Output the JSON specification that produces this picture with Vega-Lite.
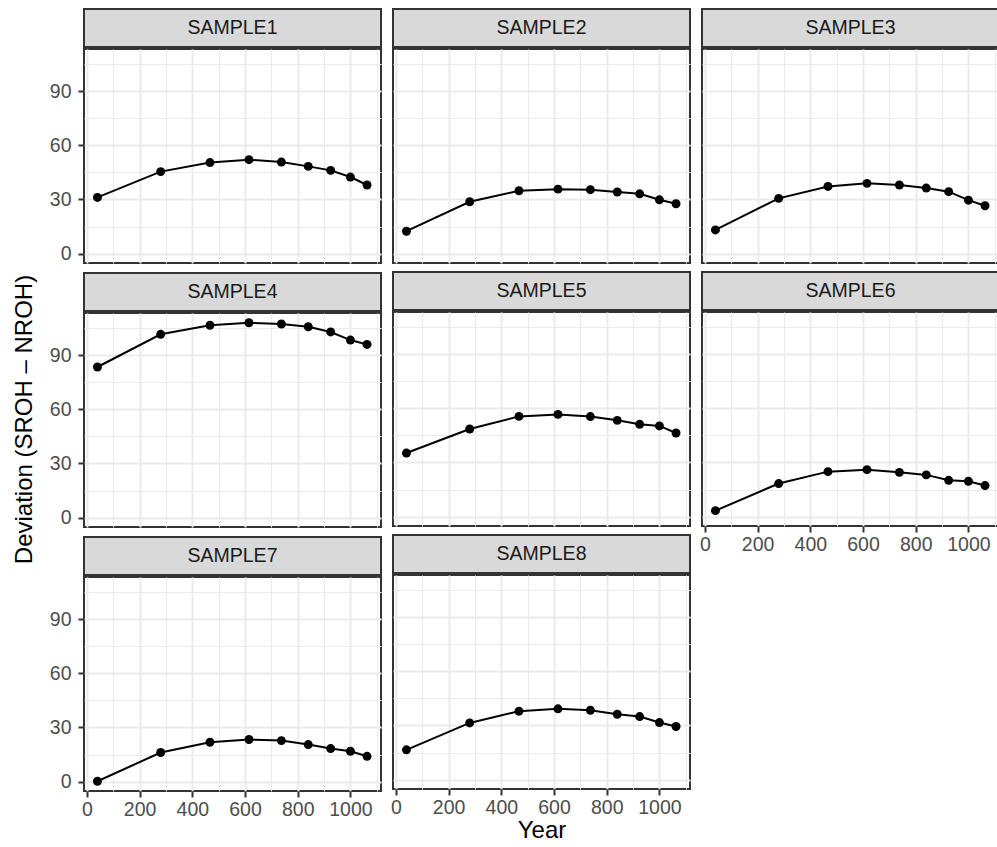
{
  "$schema": "https://vega.github.io/schema/vega-lite/v6.json",
  "background": "white",
  "padding": {"left": 12, "top": 8, "right": 0, "bottom": 0},
  "config": {"font": "Liberation Sans"},
  "datasets": {
    "d": [
      {"sample": "SAMPLE1", "year": 40, "dev": 31.1}, {"sample": "SAMPLE1", "year": 280, "dev": 45.4}, {"sample": "SAMPLE1", "year": 467, "dev": 50.4}, {"sample": "SAMPLE1", "year": 615, "dev": 52.0}, {"sample": "SAMPLE1", "year": 738, "dev": 50.7}, {"sample": "SAMPLE1", "year": 840, "dev": 48.3}, {"sample": "SAMPLE1", "year": 925, "dev": 46.1}, {"sample": "SAMPLE1", "year": 1000, "dev": 42.4}, {"sample": "SAMPLE1", "year": 1063, "dev": 38.0},
      {"sample": "SAMPLE2", "year": 40, "dev": 12.4}, {"sample": "SAMPLE2", "year": 280, "dev": 28.7}, {"sample": "SAMPLE2", "year": 467, "dev": 34.8}, {"sample": "SAMPLE2", "year": 615, "dev": 35.7}, {"sample": "SAMPLE2", "year": 738, "dev": 35.4}, {"sample": "SAMPLE2", "year": 840, "dev": 34.1}, {"sample": "SAMPLE2", "year": 925, "dev": 33.1}, {"sample": "SAMPLE2", "year": 1000, "dev": 29.8}, {"sample": "SAMPLE2", "year": 1063, "dev": 27.6},
      {"sample": "SAMPLE3", "year": 40, "dev": 13.1}, {"sample": "SAMPLE3", "year": 280, "dev": 30.6}, {"sample": "SAMPLE3", "year": 467, "dev": 37.2}, {"sample": "SAMPLE3", "year": 615, "dev": 38.9}, {"sample": "SAMPLE3", "year": 738, "dev": 38.0}, {"sample": "SAMPLE3", "year": 840, "dev": 36.3}, {"sample": "SAMPLE3", "year": 925, "dev": 34.3}, {"sample": "SAMPLE3", "year": 1000, "dev": 29.6}, {"sample": "SAMPLE3", "year": 1063, "dev": 26.5},
      {"sample": "SAMPLE4", "year": 40, "dev": 83.4}, {"sample": "SAMPLE4", "year": 280, "dev": 101.5}, {"sample": "SAMPLE4", "year": 467, "dev": 106.5}, {"sample": "SAMPLE4", "year": 615, "dev": 107.9}, {"sample": "SAMPLE4", "year": 738, "dev": 107.2}, {"sample": "SAMPLE4", "year": 840, "dev": 105.7}, {"sample": "SAMPLE4", "year": 925, "dev": 102.8}, {"sample": "SAMPLE4", "year": 1000, "dev": 98.3}, {"sample": "SAMPLE4", "year": 1063, "dev": 95.9},
      {"sample": "SAMPLE5", "year": 40, "dev": 35.2}, {"sample": "SAMPLE5", "year": 280, "dev": 48.5}, {"sample": "SAMPLE5", "year": 467, "dev": 55.5}, {"sample": "SAMPLE5", "year": 615, "dev": 56.6}, {"sample": "SAMPLE5", "year": 738, "dev": 55.4}, {"sample": "SAMPLE5", "year": 840, "dev": 53.3}, {"sample": "SAMPLE5", "year": 925, "dev": 51.1}, {"sample": "SAMPLE5", "year": 1000, "dev": 50.2}, {"sample": "SAMPLE5", "year": 1063, "dev": 46.3},
      {"sample": "SAMPLE6", "year": 40, "dev": 3.3}, {"sample": "SAMPLE6", "year": 280, "dev": 18.3}, {"sample": "SAMPLE6", "year": 467, "dev": 24.9}, {"sample": "SAMPLE6", "year": 615, "dev": 26.0}, {"sample": "SAMPLE6", "year": 738, "dev": 24.5}, {"sample": "SAMPLE6", "year": 840, "dev": 23.1}, {"sample": "SAMPLE6", "year": 925, "dev": 20.1}, {"sample": "SAMPLE6", "year": 1000, "dev": 19.6}, {"sample": "SAMPLE6", "year": 1063, "dev": 17.2},
      {"sample": "SAMPLE7", "year": 40, "dev": 0.2}, {"sample": "SAMPLE7", "year": 280, "dev": 16.1}, {"sample": "SAMPLE7", "year": 467, "dev": 21.8}, {"sample": "SAMPLE7", "year": 615, "dev": 23.3}, {"sample": "SAMPLE7", "year": 738, "dev": 22.7}, {"sample": "SAMPLE7", "year": 840, "dev": 20.5}, {"sample": "SAMPLE7", "year": 925, "dev": 18.3}, {"sample": "SAMPLE7", "year": 1000, "dev": 16.8}, {"sample": "SAMPLE7", "year": 1063, "dev": 14.0},
      {"sample": "SAMPLE8", "year": 40, "dev": 16.5}, {"sample": "SAMPLE8", "year": 280, "dev": 31.4}, {"sample": "SAMPLE8", "year": 467, "dev": 37.9}, {"sample": "SAMPLE8", "year": 615, "dev": 39.2}, {"sample": "SAMPLE8", "year": 738, "dev": 38.4}, {"sample": "SAMPLE8", "year": 840, "dev": 36.2}, {"sample": "SAMPLE8", "year": 925, "dev": 34.9}, {"sample": "SAMPLE8", "year": 1000, "dev": 31.6}, {"sample": "SAMPLE8", "year": 1063, "dev": 29.4}
    ]
  },
  "data": {"name": "d"},
  "spacing": 8,
  "hconcat": [
    {"width": 1, "height": 820, "view": {"stroke": null, "fill": null},
     "mark": {"type": "point", "opacity": 0},
     "encoding": {"y": {"field": "dev", "type": "quantitative", "axis": {"title": "Deviation (SROH \u2013 NROH)", "titleFont": "Liberation Sans", "titleFontSize": 24, "titleFontWeight": "normal", "titleColor": "black", "titlePadding": 0, "labels": false, "ticks": false, "domain": false, "grid": false}}}},
    {"spacing": 7, "hconcat": [
    {"spacing": 7, "vconcat": [
      {"spacing": 0, "vconcat": [
        {"width": 297, "height": 38, "view": {"fill": "#d9d9d9", "stroke": "#333333", "strokeWidth": 2},
         "transform": [{"filter": "datum.sample === 'SAMPLE1'"}, {"aggregate": [{"op": "count", "as": "n"}], "groupby": ["sample"]}],
         "mark": {"type": "text", "font": "Liberation Sans", "fontSize": 19.5, "color": "#1a1a1a"},
         "encoding": {"text": {"field": "sample", "type": "nominal"}}},
        {"width": 297, "height": 214, "view": {"fill": "white", "stroke": "#333333", "strokeWidth": 2},
         "transform": [{"filter": "datum.sample === 'SAMPLE1'"}],
         "encoding": {
           "x": {"field": "year", "type": "quantitative", "scale": {"domain": [-11, 1116], "nice": false, "zero": false},
                 "axis": {"values": [0,100,200,300,400,500,600,700,800,900,1000,1100], "title": null, "grid": true, "gridColor": "#ebebeb", "gridWidth": {"condition": {"test": "datum.value % 200 === 0", "value": 2}, "value": 1}, "domain": false, "ticks": false, "labels": false}},
           "y": {"field": "dev", "type": "quantitative", "scale": {"domain": [-5.2, 113.3], "nice": false, "zero": false},
                 "axis": {"values": [0,15,30,45,60,75,90,105], "title": null, "grid": true, "gridColor": "#ebebeb", "gridWidth": {"condition": {"test": "datum.value % 30 === 0", "value": 2}, "value": 1}, "domain": false, "ticks": true, "tickColor": "#333333", "tickWidth": 2, "tickSize": 6, "tickOpacity": {"condition": {"test": "datum.value % 30 === 0", "value": 1}, "value": 0}, "labelExpr": "datum.value % 30 === 0 ? datum.label : ''", "labelOverlap": false, "labelFlush": false, "labelFont": "Liberation Sans", "labelFontSize": 19.5, "labelColor": "#4d4d4d", "labelPadding": 7}}
         },
         "layer": [
           {"mark": {"type": "line", "color": "black", "strokeWidth": 2}},
           {"mark": {"type": "circle", "color": "black", "opacity": 1, "size": 80}}
         ]}
      ]},
      {"spacing": 0, "vconcat": [
        {"width": 297, "height": 38, "view": {"fill": "#d9d9d9", "stroke": "#333333", "strokeWidth": 2},
         "transform": [{"filter": "datum.sample === 'SAMPLE4'"}, {"aggregate": [{"op": "count", "as": "n"}], "groupby": ["sample"]}],
         "mark": {"type": "text", "font": "Liberation Sans", "fontSize": 19.5, "color": "#1a1a1a"},
         "encoding": {"text": {"field": "sample", "type": "nominal"}}},
        {"width": 297, "height": 214, "view": {"fill": "white", "stroke": "#333333", "strokeWidth": 2},
         "transform": [{"filter": "datum.sample === 'SAMPLE4'"}],
         "encoding": {
           "x": {"field": "year", "type": "quantitative", "scale": {"domain": [-11, 1116], "nice": false, "zero": false},
                 "axis": {"values": [0,100,200,300,400,500,600,700,800,900,1000,1100], "title": null, "grid": true, "gridColor": "#ebebeb", "gridWidth": {"condition": {"test": "datum.value % 200 === 0", "value": 2}, "value": 1}, "domain": false, "ticks": false, "labels": false}},
           "y": {"field": "dev", "type": "quantitative", "scale": {"domain": [-5.2, 113.3], "nice": false, "zero": false},
                 "axis": {"values": [0,15,30,45,60,75,90,105], "title": null, "grid": true, "gridColor": "#ebebeb", "gridWidth": {"condition": {"test": "datum.value % 30 === 0", "value": 2}, "value": 1}, "domain": false, "ticks": true, "tickColor": "#333333", "tickWidth": 2, "tickSize": 6, "tickOpacity": {"condition": {"test": "datum.value % 30 === 0", "value": 1}, "value": 0}, "labelExpr": "datum.value % 30 === 0 ? datum.label : ''", "labelOverlap": false, "labelFlush": false, "labelFont": "Liberation Sans", "labelFontSize": 19.5, "labelColor": "#4d4d4d", "labelPadding": 7}}
         },
         "layer": [
           {"mark": {"type": "line", "color": "black", "strokeWidth": 2}},
           {"mark": {"type": "circle", "color": "black", "opacity": 1, "size": 80}}
         ]}
      ]},
      {"spacing": 0, "vconcat": [
        {"width": 297, "height": 38, "view": {"fill": "#d9d9d9", "stroke": "#333333", "strokeWidth": 2},
         "transform": [{"filter": "datum.sample === 'SAMPLE7'"}, {"aggregate": [{"op": "count", "as": "n"}], "groupby": ["sample"]}],
         "mark": {"type": "text", "font": "Liberation Sans", "fontSize": 19.5, "color": "#1a1a1a"},
         "encoding": {"text": {"field": "sample", "type": "nominal"}}},
        {"width": 297, "height": 214, "view": {"fill": "white", "stroke": "#333333", "strokeWidth": 2},
         "transform": [{"filter": "datum.sample === 'SAMPLE7'"}],
         "encoding": {
           "x": {"field": "year", "type": "quantitative", "scale": {"domain": [-11, 1116], "nice": false, "zero": false},
                 "axis": {"values": [0,100,200,300,400,500,600,700,800,900,1000,1100], "format": "d", "title": null, "grid": true, "gridColor": "#ebebeb", "gridWidth": {"condition": {"test": "datum.value % 200 === 0", "value": 2}, "value": 1}, "domain": false, "ticks": true, "tickColor": "#333333", "tickWidth": 2, "tickSize": 6, "tickOpacity": {"condition": {"test": "datum.value % 200 === 0", "value": 1}, "value": 0}, "labelExpr": "datum.value % 200 === 0 ? datum.label : ''", "labelOverlap": false, "labelFlush": false, "labelFont": "Liberation Sans", "labelFontSize": 19.5, "labelColor": "#4d4d4d", "labelPadding": 3}},
           "y": {"field": "dev", "type": "quantitative", "scale": {"domain": [-5.2, 113.3], "nice": false, "zero": false},
                 "axis": {"values": [0,15,30,45,60,75,90,105], "title": null, "grid": true, "gridColor": "#ebebeb", "gridWidth": {"condition": {"test": "datum.value % 30 === 0", "value": 2}, "value": 1}, "domain": false, "ticks": true, "tickColor": "#333333", "tickWidth": 2, "tickSize": 6, "tickOpacity": {"condition": {"test": "datum.value % 30 === 0", "value": 1}, "value": 0}, "labelExpr": "datum.value % 30 === 0 ? datum.label : ''", "labelOverlap": false, "labelFlush": false, "labelFont": "Liberation Sans", "labelFontSize": 19.5, "labelColor": "#4d4d4d", "labelPadding": 7}}
         },
         "layer": [
           {"mark": {"type": "line", "color": "black", "strokeWidth": 2}},
           {"mark": {"type": "circle", "color": "black", "opacity": 1, "size": 80}}
         ]}
      ]}
    ]},
    {"spacing": 7, "vconcat": [
      {"spacing": 0, "vconcat": [
        {"width": 297, "height": 38, "view": {"fill": "#d9d9d9", "stroke": "#333333", "strokeWidth": 2},
         "transform": [{"filter": "datum.sample === 'SAMPLE2'"}, {"aggregate": [{"op": "count", "as": "n"}], "groupby": ["sample"]}],
         "mark": {"type": "text", "font": "Liberation Sans", "fontSize": 19.5, "color": "#1a1a1a"},
         "encoding": {"text": {"field": "sample", "type": "nominal"}}},
        {"width": 297, "height": 214, "view": {"fill": "white", "stroke": "#333333", "strokeWidth": 2},
         "transform": [{"filter": "datum.sample === 'SAMPLE2'"}],
         "encoding": {
           "x": {"field": "year", "type": "quantitative", "scale": {"domain": [-11, 1116], "nice": false, "zero": false},
                 "axis": {"values": [0,100,200,300,400,500,600,700,800,900,1000,1100], "title": null, "grid": true, "gridColor": "#ebebeb", "gridWidth": {"condition": {"test": "datum.value % 200 === 0", "value": 2}, "value": 1}, "domain": false, "ticks": false, "labels": false}},
           "y": {"field": "dev", "type": "quantitative", "scale": {"domain": [-5.2, 113.3], "nice": false, "zero": false},
                 "axis": {"values": [0,15,30,45,60,75,90,105], "title": null, "grid": true, "gridColor": "#ebebeb", "gridWidth": {"condition": {"test": "datum.value % 30 === 0", "value": 2}, "value": 1}, "domain": false, "ticks": false, "labels": false}}
         },
         "layer": [
           {"mark": {"type": "line", "color": "black", "strokeWidth": 2}},
           {"mark": {"type": "circle", "color": "black", "opacity": 1, "size": 80}}
         ]}
      ]},
      {"spacing": 0, "vconcat": [
        {"width": 297, "height": 38, "view": {"fill": "#d9d9d9", "stroke": "#333333", "strokeWidth": 2},
         "transform": [{"filter": "datum.sample === 'SAMPLE5'"}, {"aggregate": [{"op": "count", "as": "n"}], "groupby": ["sample"]}],
         "mark": {"type": "text", "font": "Liberation Sans", "fontSize": 19.5, "color": "#1a1a1a"},
         "encoding": {"text": {"field": "sample", "type": "nominal"}}},
        {"width": 297, "height": 214, "view": {"fill": "white", "stroke": "#333333", "strokeWidth": 2},
         "transform": [{"filter": "datum.sample === 'SAMPLE5'"}],
         "encoding": {
           "x": {"field": "year", "type": "quantitative", "scale": {"domain": [-11, 1116], "nice": false, "zero": false},
                 "axis": {"values": [0,100,200,300,400,500,600,700,800,900,1000,1100], "title": null, "grid": true, "gridColor": "#ebebeb", "gridWidth": {"condition": {"test": "datum.value % 200 === 0", "value": 2}, "value": 1}, "domain": false, "ticks": false, "labels": false}},
           "y": {"field": "dev", "type": "quantitative", "scale": {"domain": [-5.2, 113.3], "nice": false, "zero": false},
                 "axis": {"values": [0,15,30,45,60,75,90,105], "title": null, "grid": true, "gridColor": "#ebebeb", "gridWidth": {"condition": {"test": "datum.value % 30 === 0", "value": 2}, "value": 1}, "domain": false, "ticks": false, "labels": false}}
         },
         "layer": [
           {"mark": {"type": "line", "color": "black", "strokeWidth": 2}},
           {"mark": {"type": "circle", "color": "black", "opacity": 1, "size": 80}}
         ]}
      ]},
      {"spacing": 0, "vconcat": [
        {"width": 297, "height": 38, "view": {"fill": "#d9d9d9", "stroke": "#333333", "strokeWidth": 2},
         "transform": [{"filter": "datum.sample === 'SAMPLE8'"}, {"aggregate": [{"op": "count", "as": "n"}], "groupby": ["sample"]}],
         "mark": {"type": "text", "font": "Liberation Sans", "fontSize": 19.5, "color": "#1a1a1a"},
         "encoding": {"text": {"field": "sample", "type": "nominal"}}},
        {"width": 297, "height": 214, "view": {"fill": "white", "stroke": "#333333", "strokeWidth": 2},
         "transform": [{"filter": "datum.sample === 'SAMPLE8'"}],
         "encoding": {
           "x": {"field": "year", "type": "quantitative", "scale": {"domain": [-11, 1116], "nice": false, "zero": false},
                 "axis": {"values": [0,100,200,300,400,500,600,700,800,900,1000,1100], "format": "d", "title": "Year", "titleFont": "Liberation Sans", "titleFontSize": 24, "titleFontWeight": "normal", "titleColor": "black", "titlePadding": 2, "grid": true, "gridColor": "#ebebeb", "gridWidth": {"condition": {"test": "datum.value % 200 === 0", "value": 2}, "value": 1}, "domain": false, "ticks": true, "tickColor": "#333333", "tickWidth": 2, "tickSize": 6, "tickOpacity": {"condition": {"test": "datum.value % 200 === 0", "value": 1}, "value": 0}, "labelExpr": "datum.value % 200 === 0 ? datum.label : ''", "labelOverlap": false, "labelFlush": false, "labelFont": "Liberation Sans", "labelFontSize": 19.5, "labelColor": "#4d4d4d", "labelPadding": 3}},
           "y": {"field": "dev", "type": "quantitative", "scale": {"domain": [-5.2, 113.3], "nice": false, "zero": false},
                 "axis": {"values": [0,15,30,45,60,75,90,105], "title": null, "grid": true, "gridColor": "#ebebeb", "gridWidth": {"condition": {"test": "datum.value % 30 === 0", "value": 2}, "value": 1}, "domain": false, "ticks": false, "labels": false}}
         },
         "layer": [
           {"mark": {"type": "line", "color": "black", "strokeWidth": 2}},
           {"mark": {"type": "circle", "color": "black", "opacity": 1, "size": 80}}
         ]}
      ]}
    ]},
    {"spacing": 7, "vconcat": [
      {"spacing": 0, "vconcat": [
        {"width": 297, "height": 38, "view": {"fill": "#d9d9d9", "stroke": "#333333", "strokeWidth": 2},
         "transform": [{"filter": "datum.sample === 'SAMPLE3'"}, {"aggregate": [{"op": "count", "as": "n"}], "groupby": ["sample"]}],
         "mark": {"type": "text", "font": "Liberation Sans", "fontSize": 19.5, "color": "#1a1a1a"},
         "encoding": {"text": {"field": "sample", "type": "nominal"}}},
        {"width": 297, "height": 214, "view": {"fill": "white", "stroke": "#333333", "strokeWidth": 2},
         "transform": [{"filter": "datum.sample === 'SAMPLE3'"}],
         "encoding": {
           "x": {"field": "year", "type": "quantitative", "scale": {"domain": [-11, 1116], "nice": false, "zero": false},
                 "axis": {"values": [0,100,200,300,400,500,600,700,800,900,1000,1100], "title": null, "grid": true, "gridColor": "#ebebeb", "gridWidth": {"condition": {"test": "datum.value % 200 === 0", "value": 2}, "value": 1}, "domain": false, "ticks": false, "labels": false}},
           "y": {"field": "dev", "type": "quantitative", "scale": {"domain": [-5.2, 113.3], "nice": false, "zero": false},
                 "axis": {"values": [0,15,30,45,60,75,90,105], "title": null, "grid": true, "gridColor": "#ebebeb", "gridWidth": {"condition": {"test": "datum.value % 30 === 0", "value": 2}, "value": 1}, "domain": false, "ticks": false, "labels": false}}
         },
         "layer": [
           {"mark": {"type": "line", "color": "black", "strokeWidth": 2}},
           {"mark": {"type": "circle", "color": "black", "opacity": 1, "size": 80}}
         ]}
      ]},
      {"spacing": 0, "vconcat": [
        {"width": 297, "height": 38, "view": {"fill": "#d9d9d9", "stroke": "#333333", "strokeWidth": 2},
         "transform": [{"filter": "datum.sample === 'SAMPLE6'"}, {"aggregate": [{"op": "count", "as": "n"}], "groupby": ["sample"]}],
         "mark": {"type": "text", "font": "Liberation Sans", "fontSize": 19.5, "color": "#1a1a1a"},
         "encoding": {"text": {"field": "sample", "type": "nominal"}}},
        {"width": 297, "height": 214, "view": {"fill": "white", "stroke": "#333333", "strokeWidth": 2},
         "transform": [{"filter": "datum.sample === 'SAMPLE6'"}],
         "encoding": {
           "x": {"field": "year", "type": "quantitative", "scale": {"domain": [-11, 1116], "nice": false, "zero": false},
                 "axis": {"values": [0,100,200,300,400,500,600,700,800,900,1000,1100], "format": "d", "title": null, "grid": true, "gridColor": "#ebebeb", "gridWidth": {"condition": {"test": "datum.value % 200 === 0", "value": 2}, "value": 1}, "domain": false, "ticks": true, "tickColor": "#333333", "tickWidth": 2, "tickSize": 6, "tickOpacity": {"condition": {"test": "datum.value % 200 === 0", "value": 1}, "value": 0}, "labelExpr": "datum.value % 200 === 0 ? datum.label : ''", "labelOverlap": false, "labelFlush": false, "labelFont": "Liberation Sans", "labelFontSize": 19.5, "labelColor": "#4d4d4d", "labelPadding": 3}},
           "y": {"field": "dev", "type": "quantitative", "scale": {"domain": [-5.2, 113.3], "nice": false, "zero": false},
                 "axis": {"values": [0,15,30,45,60,75,90,105], "title": null, "grid": true, "gridColor": "#ebebeb", "gridWidth": {"condition": {"test": "datum.value % 30 === 0", "value": 2}, "value": 1}, "domain": false, "ticks": false, "labels": false}}
         },
         "layer": [
           {"mark": {"type": "line", "color": "black", "strokeWidth": 2}},
           {"mark": {"type": "circle", "color": "black", "opacity": 1, "size": 80}}
         ]}
      ]}
    ]}
    ]}
  ]
}
